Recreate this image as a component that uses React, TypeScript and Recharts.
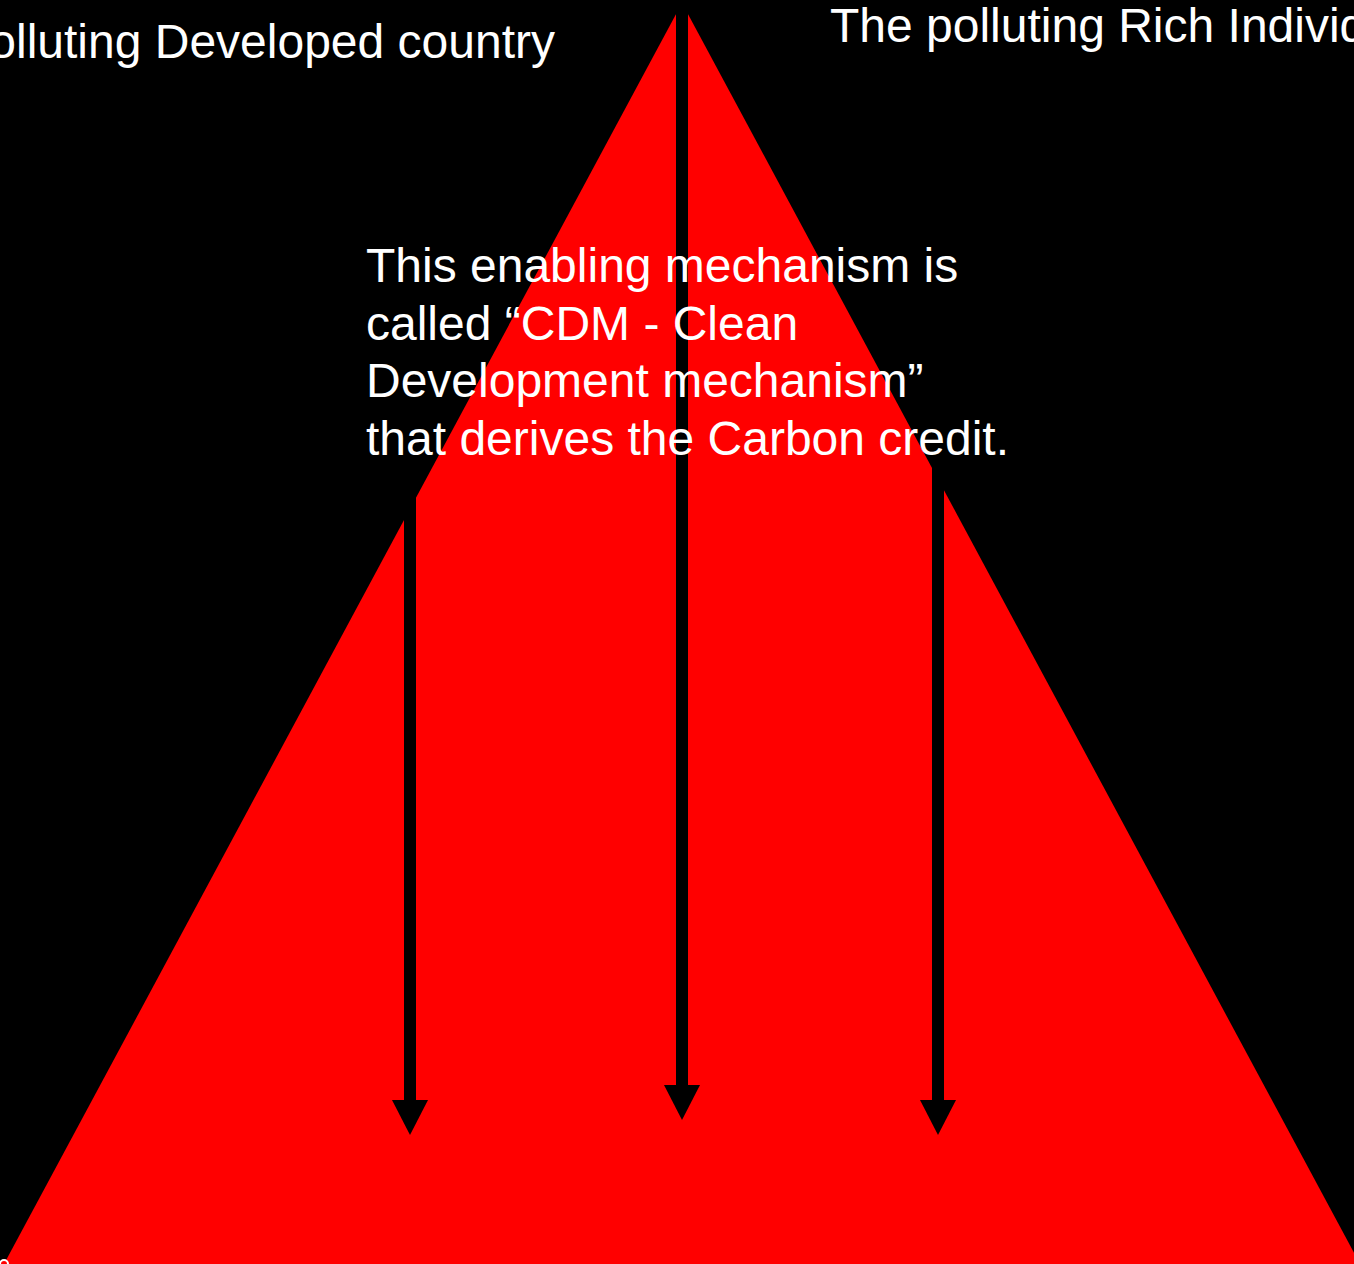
import React from 'react';
import { ComposedChart, Area, Line, Scatter, XAxis, YAxis } from 'recharts';

// diagram units: x from the left edge, y = height above the base of the pyramid
const triangleX = [4, 682, 1360];
const triangleY = [0, 1261, 0];

const arrowX = [410, 682, 938];
const arrowTop = [794, 1264, 809];
const arrowNeck = [162, 178, 162];
const arrowTip = [129, 144, 129];

const topLabels = ['The polluting Developed country', 'The polluting Rich Individual'];
const noteLines = [
  'This enabling mechanism is',
  'called “CDM - Clean',
  'Development mechanism”',
  'that derives the Carbon credit.',
];

const triangle = triangleX.map((x, i) => ({ x, y: triangleY[i] }));
const shafts = arrowX.map((x, i) => [
  { x, y: arrowTop[i] },
  { x, y: arrowNeck[i] },
]);
const heads = arrowX.map((x, i) => ({ x, y: arrowTip[i] }));

const FONT = '"Liberation Sans", Arial, sans-serif';

const ArrowHead = (props: any) => {
  const { cx, cy } = props;
  return <polygon points={`${cx - 18},${cy - 35} ${cx + 18},${cy - 35} ${cx},${cy}`} fill="#000" />;
};

export default function App() {
  return (
    <div
      style={{
        position: 'absolute',
        left: 0,
        top: 0,
        width: 1354,
        height: 1264,
        background: '#000',
        overflow: 'hidden',
      }}
    >
      <ComposedChart width={1354} height={1264} data={triangle} margin={{ top: 0, right: 0, bottom: 0, left: 0 }}>
        <XAxis type="number" dataKey="x" domain={[0, 1354]} allowDataOverflow hide height={0} tick={false} />
        <YAxis type="number" domain={[0, 1264]} allowDataOverflow hide width={0} tick={false} />
        <Area
          type="linear"
          dataKey="y"
          data={triangle}
          fill="#ff0000"
          fillOpacity={1}
          stroke="none"
          isAnimationActive={false}
        />
        {shafts.map((d, i) => (
          <Line
            key={i}
            type="linear"
            data={d}
            dataKey="y"
            stroke="#000"
            strokeWidth={12}
            dot={false}
            activeDot={false}
            isAnimationActive={false}
          />
        ))}
        <Scatter data={heads} dataKey="y" shape={<ArrowHead />} isAnimationActive={false} />
      </ComposedChart>
      <svg
        width={1354}
        height={1264}
        style={{ position: 'absolute', left: 0, top: 0, pointerEvents: 'none' }}
      >
        <g fontFamily={FONT} fontSize={48} fill="#fff">
          <text x={555} y={58} textAnchor="end">{topLabels[0]}</text>
          <text x={830} y={42}>{topLabels[1]}</text>
          {noteLines.map((t, i) => (
            <text key={i} x={366} y={282 + i * 57.7}>{t}</text>
          ))}
        </g>
      </svg>
    </div>
  );
}
